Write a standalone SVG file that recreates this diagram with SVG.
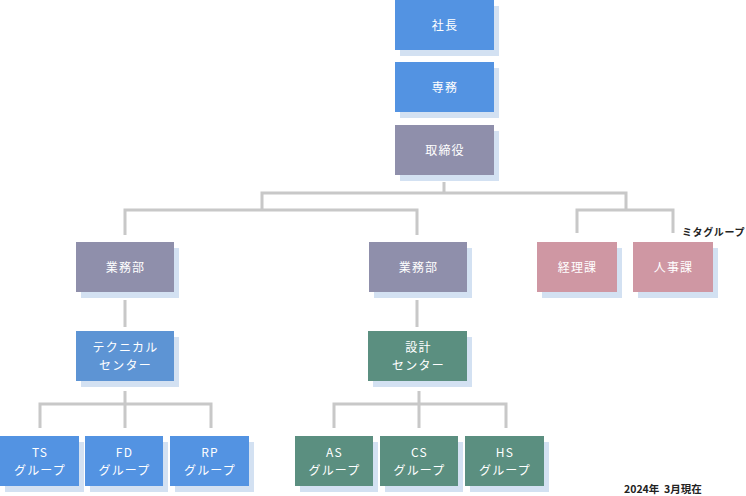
<svg xmlns="http://www.w3.org/2000/svg" width="746" height="496" viewBox="0 0 746 496">
<style>
.sh{fill:#d3e1f2}
.blue{fill:#5393e2}
.blue2{fill:#5d94d4}
.purple{fill:#8f8fab}
.pink{fill:#cf97a3}
.green{fill:#5b8f80}
.t{font-family:"Noto Sans CJK JP","Noto Sans",sans-serif;font-size:12px;letter-spacing:1.2px;fill:#ffffff;text-anchor:middle}
.s{font-family:"Noto Sans CJK JP","Noto Sans",sans-serif;font-size:10px;letter-spacing:0.6px;font-weight:bold;fill:#222222}
.d{font-family:"Noto Sans CJK JP","Noto Sans",sans-serif;font-size:10.5px;font-weight:bold;fill:#222222}
.c{fill:none;stroke:#c8c8c8;stroke-width:3}
</style>
<rect width="746" height="496" fill="#ffffff"/>
<g id="connectors">
<path class="c" d="M444 182V193M262 210V193H626V210M125 235V210H417V235M577 233V210H673V233"/>
<path class="c" d="M125 300V327M417 300V327"/>
<path class="c" d="M125 391V428M40 428V404H211V428"/>
<path class="c" d="M419 391V428M334 428V404H506V428"/>
</g>
<g id="shacho"><rect class="sh" x="400" y="6" width="99" height="50"/><rect class="blue" x="395" y="0" width="99" height="50"/><text class="t" x="445" y="29.5">社長</text></g>
<g id="senmu"><rect class="sh" x="400" y="68" width="99" height="50"/><rect class="blue" x="395" y="62" width="99" height="50"/><text class="t" x="445" y="91.5">専務</text></g>
<g id="torishimariyaku"><rect class="sh" x="400" y="131" width="99" height="50"/><rect class="purple" x="395" y="125" width="99" height="50"/><text class="t" x="445" y="154.5">取締役</text></g>
<g id="gyomubu1"><rect class="sh" x="81" y="248" width="98" height="50"/><rect class="purple" x="76" y="242" width="98" height="50"/><text class="t" x="125.5" y="271.5">業務部</text></g>
<g id="gyomubu2"><rect class="sh" x="374" y="248" width="98" height="50"/><rect class="purple" x="369" y="242" width="98" height="50"/><text class="t" x="418.5" y="271.5">業務部</text></g>
<g id="keiri"><rect class="sh" x="542" y="248" width="80" height="50"/><rect class="pink" x="537" y="242" width="80" height="50"/><text class="t" x="577.5" y="271.5">経理課</text></g>
<g id="jinji"><rect class="sh" x="638" y="248" width="80" height="50"/><rect class="pink" x="633" y="242" width="80" height="50"/><text class="t" x="673.5" y="271.5">人事課</text></g>
<text class="s" x="682" y="235.5">ミタグループ</text>
<g id="technical"><rect class="sh" x="81" y="337" width="98" height="50"/><rect class="blue2" x="76" y="331" width="98" height="50"/><text class="t" x="125.5" y="352">テクニカル</text><text class="t" x="125.5" y="369.5">センター</text></g>
<g id="sekkei"><rect class="sh" x="373" y="337" width="99" height="50"/><rect class="green" x="368" y="331" width="99" height="50"/><text class="t" x="418.5" y="352">設計</text><text class="t" x="418.5" y="369.5">センター</text></g>
<g id="ts"><rect class="sh" x="5" y="442" width="79" height="50"/><rect class="blue" x="0" y="436" width="79" height="50"/><text class="t" x="40" y="457">TS</text><text class="t" x="40" y="474.5">グループ</text></g>
<g id="fd"><rect class="sh" x="90" y="442" width="78" height="50"/><rect class="blue" x="85" y="436" width="78" height="50"/><text class="t" x="124.5" y="457">FD</text><text class="t" x="124.5" y="474.5">グループ</text></g>
<g id="rp"><rect class="sh" x="175" y="442" width="79" height="50"/><rect class="blue" x="170" y="436" width="79" height="50"/><text class="t" x="210" y="457">RP</text><text class="t" x="210" y="474.5">グループ</text></g>
<g id="as"><rect class="sh" x="300" y="442" width="78" height="50"/><rect class="green" x="295" y="436" width="78" height="50"/><text class="t" x="334.5" y="457">AS</text><text class="t" x="334.5" y="474.5">グループ</text></g>
<g id="cs"><rect class="sh" x="385" y="442" width="78" height="50"/><rect class="green" x="380" y="436" width="78" height="50"/><text class="t" x="419.5" y="457">CS</text><text class="t" x="419.5" y="474.5">グループ</text></g>
<g id="hs"><rect class="sh" x="470" y="442" width="79" height="50"/><rect class="green" x="465" y="436" width="79" height="50"/><text class="t" x="505" y="457">HS</text><text class="t" x="505" y="474.5">グループ</text></g>
<text class="d" x="624" y="493" xml:space="preserve">2024年  3月現在</text>
</svg>
